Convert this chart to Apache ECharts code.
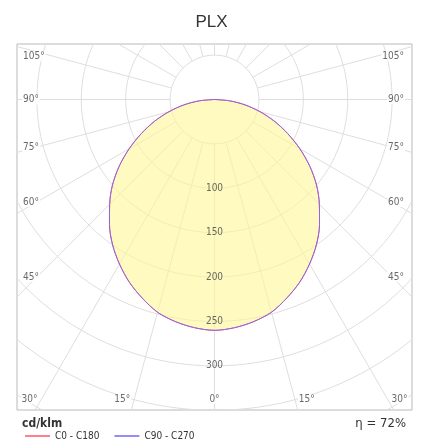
<!DOCTYPE html>
<html>
<head>
<meta charset="utf-8">
<script src="https://cdn.jsdelivr.net/npm/echarts@6/dist/echarts.min.js"></script>
<style>
  html, body { margin: 0; padding: 0; background: #fff; }
  #chart { width: 423px; height: 441px; }
</style>
</head>
<body>
<div id="chart"></div>
<script>
// photometric data, cd/klm, angle measured from nadir (0 = straight down)
var angles = [0, 5, 10, 15, 20, 25, 30, 35, 40, 45, 50, 55, 60, 65, 70, 75, 80, 85, 90];
var c0c180 = [260, 258, 254, 248, 238, 227, 214, 200, 184, 167, 150, 131, 111, 91, 72, 53, 35, 17, 0];
var c90c270 = [260, 258, 254, 248, 238, 227, 214, 200, 184, 167, 150, 131, 111, 91, 72, 53, 35, 17, 0];

var rings = [50, 100, 150, 200, 250, 300, 350, 400, 450];
var ringLabels = [100, 150, 200, 250, 300];
var spokes = [0, 15, 30, 45, 60, 75, 90, 105, 120, 135, 150, 165, 180];
var sideLabels = [45, 60, 75, 90, 105];
var bottomLabels = [0, 15, 30];

var title = 'PLX';
var unit = 'cd/klm';
var efficiency = 'η = 72%';

// frame of the plot in data units (cd/klm)
var PX = 0.888;          // pixels per cd/klm
var XMIN = -222.4, XMAX = 222.4, YMIN = -349.7, YMAX = 62.5;
var NARROW = '"Liberation Sans Narrow", "DejaVu Sans Condensed", sans-serif';
var RED = '#ff5566', BLUE = '#7466fa';

var rad = function (d) { return d * Math.PI / 180; };

function curve(vals) {
    var pts = [];
    for (var i = angles.length - 1; i >= 0; i--) {
        pts.push([-vals[i] * Math.sin(rad(angles[i])), -vals[i] * Math.cos(rad(angles[i]))]);
    }
    for (var j = 1; j < angles.length; j++) {
        pts.push([vals[j] * Math.sin(rad(angles[j])), -vals[j] * Math.cos(rad(angles[j]))]);
    }
    return pts;
}

var gridLine = { color: '#dedede', width: 1 };
var series = [];

rings.forEach(function (r) {
    var d = [];
    for (var a = 0; a <= 360; a += 2) d.push([r * Math.cos(rad(a)), r * Math.sin(rad(a))]);
    series.push({ type: 'line', data: d, symbol: 'none', silent: true, clip: true,
        lineStyle: gridLine, z: 1, animation: false });
});

spokes.forEach(function (a) {
    [-1, 1].forEach(function (s) {
        series.push({ type: 'line', symbol: 'none', silent: true, clip: true, z: 1, animation: false,
            lineStyle: gridLine,
            data: [[s * 50 * Math.sin(rad(a)), -50 * Math.cos(rad(a))],
                   [s * 520 * Math.sin(rad(a)), -520 * Math.cos(rad(a))]] });
    });
});

var pts0 = curve(c0c180);
var pts90 = curve(c90c270);

// filled light distribution
series.push({
    type: 'custom', z: 2, silent: true, animation: false,
    data: [[0, 0]],
    renderItem: function (params, api) {
        return {
            type: 'polygon',
            shape: { points: pts90.map(function (p) { return api.coord(p); }), smooth: 0.3 },
            style: { fill: 'rgba(255,246,150,0.6)', stroke: null }
        };
    }
});

series.push({ name: 'C0 - C180', type: 'line', data: pts0, symbol: 'none', smooth: 0.3, z: 3,
    animation: false, itemStyle: { color: RED }, lineStyle: { color: RED, width: 1 } });
series.push({ name: 'C90 - C270', type: 'line', data: pts90, symbol: 'none', smooth: 0.3, z: 3,
    animation: false, itemStyle: { color: BLUE }, lineStyle: { color: BLUE, width: 1, opacity: 0.85 } });

// labels
var lab = [];
var degStyle = { fontFamily: NARROW, fontSize: 10, color: '#444', backgroundColor: '#fff', padding: [0, 1] };
sideLabels.forEach(function (a) {
    var xc = -(XMAX - 20 / PX);
    var t = -xc / Math.sin(rad(a));
    var y = -t * Math.cos(rad(a)) + (a > 90 ? -4 / PX : 0);
    lab.push({ value: [XMIN + 5 / PX, y], label: Object.assign({ show: true, position: 'right', distance: 0, formatter: a + '°' }, degStyle) });
    lab.push({ value: [XMAX - 7 / PX, y], label: Object.assign({ show: true, position: 'left', distance: 0, formatter: a + '°' }, degStyle) });
});
bottomLabels.forEach(function (a) {
    var y = YMIN + 11 / PX;
    var x = -y * Math.tan(rad(a));
    if (a === 0) {
        lab.push({ value: [0, y], label: Object.assign({ show: true, position: 'inside', formatter: a + '°' }, degStyle) });
    } else {
        lab.push({ value: [-x, y], label: Object.assign({ show: true, position: 'left', distance: 3, formatter: a + '°' }, degStyle) });
        lab.push({ value: [x, y], label: Object.assign({ show: true, position: 'right', distance: 3, formatter: a + '°' }, degStyle) });
    }
});
ringLabels.forEach(function (r) {
    lab.push({ value: [0, -r], label: { show: true, position: 'inside', formatter: String(r),
        fontFamily: NARROW, fontSize: 10, color: '#444' } });
});
series.push({ type: 'scatter', data: lab, symbolSize: 0, silent: true, z: 5, animation: false });

var chart = echarts.init(document.getElementById('chart'));
chart.setOption({
    animation: false,
    title: { text: title, left: 'center', top: 9,
        textStyle: { fontFamily: '"Liberation Sans", Arial, sans-serif', fontSize: 17, fontWeight: 'normal', color: '#333' } },
    grid: { left: 17, top: 44, width: 395, height: 366, show: true, borderColor: '#b9b9b9', borderWidth: 1, backgroundColor: '#fff' },
    xAxis: { type: 'value', min: XMIN, max: XMAX, show: false },
    yAxis: { type: 'value', min: YMIN, max: YMAX, show: false },
    legend: {
        data: [
            { name: 'C0 - C180', icon: 'rect', itemStyle: { color: RED } },
            { name: 'C90 - C270', icon: 'rect', itemStyle: { color: BLUE, opacity: 1 } }
        ],
        left: 20, top: 426, itemWidth: 25, itemHeight: 1.5, itemGap: 15,
        textStyle: { fontFamily: NARROW, fontSize: 10, color: '#333' }
    },
    graphic: [
        { type: 'text', left: 22, top: 418, style: { text: unit, fontFamily: NARROW, fontSize: 12, fontWeight: 'bold', fill: '#333' } },
        { type: 'text', right: 17, top: 417, style: { text: efficiency, fontFamily: NARROW, fontSize: 13, fill: '#333' } }
    ],
    series: series
});
</script>
</body>
</html>
